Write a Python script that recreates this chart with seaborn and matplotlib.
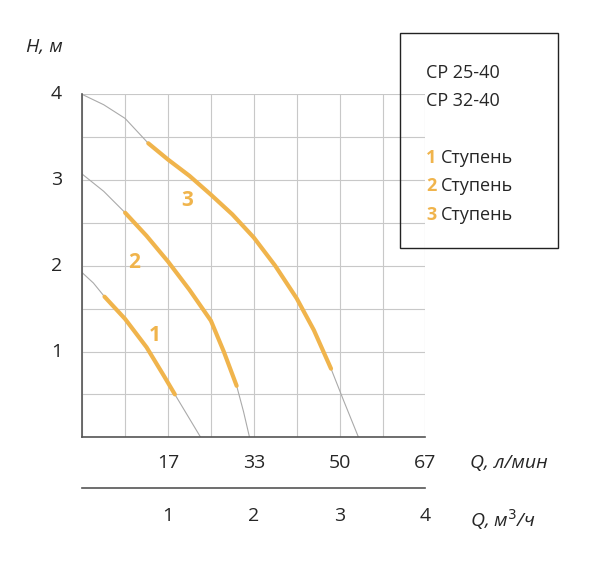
import numpy as np
import matplotlib
matplotlib.use('Agg')
import matplotlib.pyplot as plt
import seaborn as sns

sns.set_style('white')
plt.rcParams['font.family'] = ['Open Sans', 'DejaVu Sans']

## curves: flow (m3/h) vs head (m)
q3 = [0, 0.25, 0.5, 0.77, 1.0, 1.25, 1.5, 1.75, 2.0, 2.25, 2.5, 2.7, 2.9, 3.05, 3.22]
h3 = [4.0, 3.88, 3.72, 3.43, 3.24, 3.05, 2.83, 2.6, 2.33, 2.0, 1.62, 1.25, 0.8, 0.42, 0.0]
q2 = [0, 0.25, 0.5, 0.75, 1.0, 1.25, 1.5, 1.65, 1.8, 1.88, 1.95]
h2 = [3.07, 2.87, 2.62, 2.35, 2.05, 1.72, 1.36, 1.0, 0.6, 0.3, 0.0]
q1 = [0, 0.13, 0.26, 0.5, 0.75, 0.95, 1.08, 1.23, 1.38]
h1 = [1.92, 1.8, 1.64, 1.38, 1.05, 0.72, 0.5, 0.25, 0.0]
# orange working ranges (index slices of the above)
work = [(q1[2:7], h1[2:7]), (q2[2:9], h2[2:9]), (q3[3:13], h3[3:13])]
lmin_labels = ['17', '33', '50', '67']
m3h_labels = ['1', '2', '3', '4']
models = ['CP 25-40', 'CP 32-40']

orange = '#F0B44C'
fig = plt.figure(figsize=(6, 5.62), dpi=100)
ax = fig.add_axes([0.137, 0.222, 0.572, 0.610])

for q, h in [(q1, h1), (q2, h2), (q3, h3)]:
    sns.lineplot(x=q, y=h, ax=ax, color='#aaaaaa', lw=0.8, sort=False)
for q, h in work:
    sns.lineplot(x=q, y=h, ax=ax, color=orange, lw=3, sort=False)

ax.set_xlim(0, 4)
ax.set_ylim(0, 4)
ax.set_xticks(np.arange(0, 4.01, 0.5))
ax.set_yticks(np.arange(0, 4.01, 0.5))
ax.grid(True, color='#c8c8c8', lw=0.8)
ax.tick_params(length=0, labelbottom=False, labelleft=False)
for s in ['top', 'right']:
    ax.spines[s].set_visible(False)
for s in ['left', 'bottom']:
    ax.spines[s].set_color('#555555')
    ax.spines[s].set_linewidth(1.2)
for y in range(1, 5):
    ax.text(-0.3, y, str(y), ha='center', va='center', fontsize=14)
for x, t in enumerate(lmin_labels, start=1):
    ax.text(x, -0.3, t, ha='center', va='center', fontsize=14)

ax.text(0.78, 1.12, '1', color=orange, fontsize=15, fontweight='bold')
ax.text(0.53, 1.97, '2', color=orange, fontsize=15, fontweight='bold')
ax.text(1.15, 2.7, '3', color=orange, fontsize=15, fontweight='bold')

# secondary m3/h axis
ax2 = fig.add_axes([0.137, 0.132, 0.572, 0.001])
ax2.set_xlim(0, 4)
ax2.set_yticks([])
ax2.set_xticks(range(5))
ax2.set_xticklabels([''] + m3h_labels, fontsize=14)
ax2.tick_params(axis='x', direction='in', length=9, width=1.2, color='#555555', pad=14)
for s in ['top', 'right', 'left']:
    ax2.spines[s].set_visible(False)
ax2.spines['bottom'].set_color('#555555')
ax2.spines['bottom'].set_linewidth(1.2)

fig.text(0.043, 0.916, 'H, м', fontsize=14, style='italic', va='center')
fig.text(0.783, 0.176, 'Q, л/мин', fontsize=14, style='italic', va='center')
fig.text(0.783, 0.075, 'Q, м$^3$/ч', fontsize=14, style='italic', va='center')

# legend box
fig.patches.append(plt.Rectangle((0.667, 0.559), 0.263, 0.382, transform=fig.transFigure,
                                 fill=False, ec='#222222', lw=1))
fig.text(0.71, 0.87, models[0], fontsize=13, va='center')
fig.text(0.71, 0.82, models[1], fontsize=13, va='center')
for i, y in enumerate([0.719, 0.669, 0.617]):
    fig.text(0.71, y, str(i + 1), color=orange, fontsize=13, fontweight='bold', va='center')
    fig.text(0.735, y, 'Ступень', fontsize=13, va='center')

fig.savefig('out.png', dpi=100)
